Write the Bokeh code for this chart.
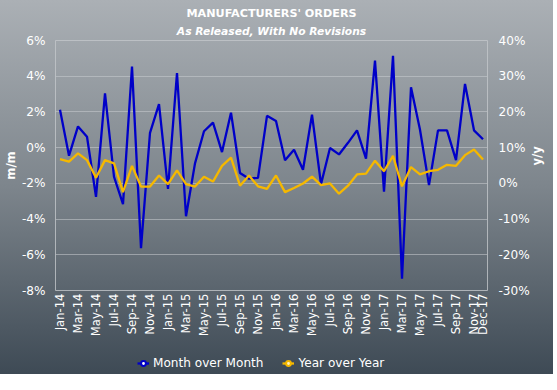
from bokeh.plotting import figure
from bokeh.layouts import column
from bokeh.models import (Range1d, LinearAxis, FixedTicker, PrintfTickFormatter,
                          Legend, LegendItem, Title, ColumnDataSource)
from bokeh.embed import file_html
from bokeh.resources import INLINE

months = ["Jan-14", "Feb-14", "Mar-14", "Apr-14", "May-14", "Jun-14", "Jul-14", "Aug-14",
          "Sep-14", "Oct-14", "Nov-14", "Dec-14",
          "Jan-15", "Feb-15", "Mar-15", "Apr-15", "May-15", "Jun-15", "Jul-15", "Aug-15",
          "Sep-15", "Oct-15", "Nov-15", "Dec-15",
          "Jan-16", "Feb-16", "Mar-16", "Apr-16", "May-16", "Jun-16", "Jul-16", "Aug-16",
          "Sep-16", "Oct-16", "Nov-16", "Dec-16",
          "Jan-17", "Feb-17", "Mar-17", "Apr-17", "May-17", "Jun-17", "Jul-17", "Aug-17",
          "Sep-17", "Oct-17", "Nov-17", "Dec-17"]

tick_labels = ["Jan-14", "Mar-14", "May-14", "Jul-14", "Sep-14", "Nov-14",
               "Jan-15", "Mar-15", "May-15", "Jul-15", "Sep-15", "Nov-15",
               "Jan-16", "Mar-16", "May-16", "Jul-16", "Sep-16", "Nov-16",
               "Jan-17", "Mar-17", "May-17", "Jul-17", "Sep-17", "Nov-17", "Dec-17"]

# Month over Month (%), left axis
mom = [2.12, -0.45, 1.19, 0.61, -2.76, 3.04, -1.63, -3.16, 4.54, -5.63, 0.83, 2.44,
       -2.31, 4.18, -3.84, -0.88, 0.92, 1.40, -0.25, 1.96, -1.42, -1.74, -1.69, 1.78,
       1.49, -0.70, -0.12, -1.24, 1.85, -2.05, -0.02, -0.38, 0.27, 0.97, -0.61, 4.87,
       -2.46, 5.14, -7.34, 3.38, 1.00, -2.10, 0.97, 0.97, -0.70, 3.57, 0.97, 0.47]

# Year over Year (%), right axis
yoy = [6.8, 6.1, 8.4, 6.5, 1.6, 6.5, 5.6, -2.45, 4.9, -0.9, -0.9, 2.2,
       -0.2, 3.65, -0.2, -0.9, 1.86, 0.5, 4.9, 7.2, -0.65, 2.2, -0.84, -1.55,
       2.2, -2.45, -1.3, -0.03, 1.86, -0.5, -0.03, -2.9, -0.65, 2.5, 2.75, 6.35,
       3.4, 7.7, -0.84, 4.55, 2.5, 3.4, 3.8, 5.2, 4.9, 7.9, 9.5, 6.7]

left_ticks = [-8, -6, -4, -2, 0, 2, 4, 6]
right_ticks = [-30, -20, -10, 0, 10, 20, 30, 40]
series_names = ["Month over Month", "Year over Year"]

FONT = "DejaVu Sans"
WHITE = "#ffffff"
BLUE = "#0000c8"
GOLD = "#f5b800"

x = list(range(len(months)))
src = ColumnDataSource(dict(x=x, mom=mom, yoy=yoy, month=months))

p = figure(frame_width=432, frame_height=250, output_backend="svg", toolbar_location=None,
           x_range=Range1d(-0.5, len(months) - 0.5), y_range=Range1d(-8, 6),
           min_border_left=47, min_border_right=62, min_border_top=40, min_border_bottom=58)
p.extra_y_ranges = {"yoy": Range1d(-30, 40)}

p.background_fill_alpha = 0
p.border_fill_alpha = 0
p.outline_line_color = "#c3c7cb"
p.outline_line_alpha = 0.8

# grid
p.xgrid.visible = False
p.ygrid.ticker = FixedTicker(ticks=left_ticks)
p.ygrid.grid_line_color = "#c8ccd0"
p.ygrid.grid_line_alpha = 0.55

# x axis
xax = p.xaxis[0]
tick_idx = [months.index(t) for t in tick_labels]
xax.ticker = FixedTicker(ticks=tick_idx)
xax.major_label_overrides = {i: months[i] for i in tick_idx}
xax.major_label_orientation = 1.5708
xax.major_label_text_color = WHITE
xax.major_label_text_font = FONT
xax.major_label_text_font_size = "11.6px"
xax.major_label_standoff = 3
xax.axis_line_color = None
xax.major_tick_line_color = None
xax.minor_tick_line_color = None
xax.major_tick_out = 0
xax.major_tick_in = 0

# left axis
yax = p.yaxis[0]
yax.ticker = FixedTicker(ticks=left_ticks)
yax.formatter = PrintfTickFormatter(format="%d%%")
yax.axis_label = "m/m"
yax.axis_label_text_color = WHITE
yax.axis_label_text_font = FONT
yax.axis_label_text_font_style = "bold"
yax.axis_label_text_font_size = "11.6px"
yax.axis_label_standoff = 1
yax.major_label_text_color = WHITE
yax.major_label_text_font = FONT
yax.major_label_text_font_size = "12.1px"
yax.major_label_standoff = 4
yax.axis_line_color = None
yax.major_tick_line_color = None
yax.minor_tick_line_color = None

# right axis
rax = LinearAxis(y_range_name="yoy", ticker=FixedTicker(ticks=right_ticks),
                 formatter=PrintfTickFormatter(format="%d%%"))
rax.axis_label = "y/y"
rax.axis_label_orientation = 1.5708
rax.axis_label_text_color = WHITE
rax.axis_label_text_font = FONT
rax.axis_label_text_font_style = "bold"
rax.axis_label_text_font_size = "11.6px"
rax.axis_label_standoff = 4
rax.major_label_text_color = WHITE
rax.major_label_text_font = FONT
rax.major_label_text_font_size = "12.1px"
rax.major_label_standoff = 5
rax.axis_line_color = None
rax.major_tick_line_color = None
rax.minor_tick_line_color = None
p.add_layout(rax, "right")

# lines
p.line("x", "mom", source=src, line_color=BLUE, line_width=2.3)
p.line("x", "yoy", source=src, y_range_name="yoy", line_color=GOLD, line_width=2.3)

# titles (subtitle first so main title sits above it)
sub = Title(text="As Released, With No Revisions", align="center", text_color=WHITE,
            text_font=FONT, text_font_style="bold italic", text_font_size="10.7px",
            standoff=6, offset=-17)
main = Title(text="MANUFACTURERS' ORDERS", align="center", text_color=WHITE,
             text_font=FONT, text_font_style="bold", text_font_size="11.2px",
             standoff=0, offset=-17)
p.add_layout(sub, "above")
p.add_layout(main, "above")

# legend strip (separate small figure so nothing is clipped)
leg = figure(width=541, height=26, output_backend="svg", toolbar_location=None,
             x_range=Range1d(0, 1), y_range=Range1d(0, 1),
             x_axis_location=None, y_axis_location=None,
             min_border_left=0, min_border_right=0, min_border_top=0, min_border_bottom=0)
leg.background_fill_alpha = 0
leg.border_fill_alpha = 0
leg.outline_line_color = None
leg.grid.visible = False
off = ColumnDataSource(dict(x=[5, 6], y=[5, 6]))
lb1 = leg.line("x", "y", source=off, line_color=BLUE, line_width=2.3)
mb1 = leg.scatter("x", "y", source=off, marker="circle", size=7, fill_color="#ffffff",
                  line_color=BLUE, line_width=2)
lb2 = leg.line("x", "y", source=off, line_color=GOLD, line_width=2.3)
mb2 = leg.scatter("x", "y", source=off, marker="circle", size=7, fill_color="#fff3c0",
                  line_color=GOLD, line_width=2)
legend = Legend(items=[LegendItem(label=series_names[0], renderers=[lb1, mb1]),
                       LegendItem(label=series_names[1], renderers=[lb2, mb2])],
                orientation="horizontal", location=(82, 3),
                background_fill_alpha=0, border_line_color=None,
                label_text_color=WHITE, label_text_font=FONT, label_text_font_size="12.1px",
                glyph_width=12, glyph_height=14, label_height=16, spacing=19, padding=2,
                margin=0, label_standoff=4)
leg.add_layout(legend, "center")

root = column(p, leg, spacing=0,
              styles={"background": "linear-gradient(to bottom, #abb0b5 0%, #7d858c 50%, #3e4a55 100%)"})

open("out.html", "w").write(file_html(root, INLINE))
